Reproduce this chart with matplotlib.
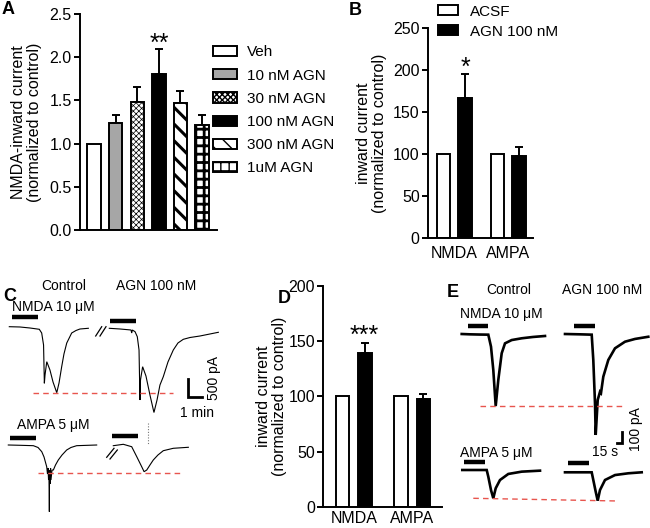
import matplotlib
matplotlib.use('Agg')
import matplotlib.pyplot as plt
import matplotlib.patches as mpatches
import numpy as np

plt.rcParams['font.family'] = ['Liberation Sans', 'DejaVu Sans']
plt.rcParams['hatch.color'] = 'black'

# ---------------- DATA ----------------
# Panel A
a_labels = ['Veh', '10 nM AGN', '30 nM AGN', '100 nM AGN', '300 nM AGN', '1uM AGN']
a_means = [1.00, 1.24, 1.48, 1.81, 1.47, 1.22]
a_errs = [0.00, 0.095, 0.17, 0.29, 0.14, 0.11]
a_yticks = [0.0, 0.5, 1.0, 1.5, 2.0, 2.5]

# Panel B
b_groups = ['NMDA', 'AMPA']
b_series = ['ACSF', 'AGN 100 nM']
b_acsf = [100, 100]
b_agn = [167, 97]
b_agn_err = [29, 11]
b_yticks = [0, 50, 100, 150, 200, 250]

# Panel D
d_groups = ['NMDA', 'AMPA']
d_ctrl = [100, 100]
d_agn = [139, 97.5]
d_agn_err = [9, 4.5]
d_yticks = [0, 50, 100, 150, 200]

# Panel C traces (time in min from trace start, current in pA relative to baseline)
c_nmda_ctrl_t = [0, 0.80, 1.55, 2.25, 2.43, 2.57, 2.63, 2.68, 2.81, 3.05, 3.28, 3.56, 3.73, 3.93, 4.10, 4.31, 4.68, 5.00, 5.30, 5.93]
c_nmda_ctrl_i = [0, -8, -36, -72, -175, -508, -1572, -1342, -972, -1203, -1536, -1833, -1564, -1111, -758, -453, -175, -106, -64, -44]
c_nmda_agn_t = [0, 0.80, 1.63, 1.68, 1.73, 1.93, 2.10, 2.23, 2.30, 2.34, 2.50, 2.75, 3.05, 3.35, 3.58, 3.80, 4.05, 4.40, 4.80, 5.15, 5.55, 6.05, 6.80, 7.55, 8.18]
c_nmda_agn_i = [0, -19, -47, -131, -47, -94, -233, -603, -1992, -1436, -1067, -1325, -1853, -2339, -1992, -1575, -1345, -936, -603, -408, -306, -256, -214, -158, -111]
c_ampa_ctrl_t = [0, 0.88, 1.88, 2.23, 2.51, 2.68, 2.88, 2.94, 2.98, 3.02, 3.05, 3.07, 3.08, 3.09, 3.13, 3.17, 3.20, 3.28, 3.38, 3.54, 3.75, 4.03, 4.38, 4.70, 5.13, 6.63]
c_ampa_ctrl_i = [0, -8, -19, -69, -186, -333, -603, -806, -639, -972, -695, -1250, -1853, -917, -1083, -639, -972, -695, -695, -556, -417, -278, -139, -69, -19, 0]
c_ampa_agn_t = [0, 0.75, 1.38, 1.76, 2.13, 2.31, 2.51, 2.75, 3.00, 3.35, 3.75, 4.50, 5.63]
c_ampa_agn_i = [0, 39, -28, -306, -583, -722, -675, -536, -397, -258, -139, -72, -44]

# Panel E traces (time in s from trace start, current in pA relative to baseline)
e_nmda_ctrl_t = [0, 24.9, 54.9, 79.8, 87.9, 94.8, 102, 109.8, 120, 129.9, 150, 180, 213.9, 249.9]
e_nmda_ctrl_i = [0, -3, -5, -6, -115, -327, -655, -418, -175, -85, -55, -39, -27, -18]
e_nmda_agn_t = [0, 45, 80.1, 84.9, 90, 92.1, 98.1, 105, 108, 114.9, 129.9, 150, 180, 210, 249.9]
e_nmda_agn_i = [0, -3, -6, -236, -630, -918, -600, -525, -536, -388, -236, -130, -70, -45, -25]
e_ampa_ctrl_t = [0, 73.2, 78, 86.1, 93, 100.2, 113.1, 138, 178.2, 233.1]
e_ampa_ctrl_i = [0, 0, -61, -182, -257, -166, -91, -36, -15, -6]
e_ampa_agn_t = [0, 80.1, 84.9, 92.1, 98.1, 105, 120, 150, 189.9, 230.1]
e_ampa_agn_i = [0, 0, -70, -176, -258, -161, -70, -25, -9, 0]

# ---------------- LAYOUT ----------------
W, H = 650, 528
fig = plt.figure(figsize=(6.5, 5.28), dpi=100)
FS = 11.5


def box(x0, y0, x1, y1):
    return [x0 / W, 1 - y1 / H, (x1 - x0) / W, (y1 - y0) / H]


def ftext(x, y, s, **kw):
    fig.text(x / W, 1 - y / H, s, **kw)


def style_axes(ax, xpad=5):
    for s in ['top', 'right']:
        ax.spines[s].set_visible(False)
    for s in ['left', 'bottom']:
        ax.spines[s].set_linewidth(1.4)
    ax.tick_params(axis='y', length=4, width=1.4, labelsize=FS, pad=2)
    ax.tick_params(axis='x', length=0, labelsize=FS, pad=xpad)


def set_hlw(p, lw):
    if hasattr(p, 'set_hatch_linewidth'):
        p.set_hatch_linewidth(lw)


EDGE_LW = 1.4

# ---------------- PANEL A ----------------
axA = fig.add_axes(box(80, 14, 217, 230))
style_axes(axA)
a_styles = [
    dict(fc='white', hatch=None, hlw=1.0),
    dict(fc='#a6a6a6', hatch=None, hlw=1.0),
    dict(fc='white', hatch='xxxxxx', hlw=0.5),
    dict(fc='black', hatch=None, hlw=1.0),
    dict(fc='white', hatch='\\\\', hlw=2.2),
    dict(fc='white', hatch='++', hlw=2.0),
]
xa = np.arange(len(a_means))
a_handles = []
for i, st in enumerate(a_styles):
    with plt.rc_context({'hatch.linewidth': st['hlw']}):
        bars = axA.bar(xa[i], a_means[i], width=0.62, color=st['fc'], edgecolor='black',
                       linewidth=EDGE_LW, hatch=st['hatch'], zorder=2)
        for p in bars:
            set_hlw(p, st['hlw'])
        hp = mpatches.Patch(facecolor=st['fc'], edgecolor='black', linewidth=EDGE_LW,
                            hatch=st['hatch'], label=a_labels[i])
        set_hlw(hp, st['hlw'])
    a_handles.append(hp)
mask = [e > 0 for e in a_errs]
axA.errorbar(xa[mask], np.array(a_means)[mask],
             yerr=[np.zeros(sum(mask)), np.array(a_errs)[mask]],
             fmt='none', ecolor='black', elinewidth=1.4, capsize=3, capthick=1.4, zorder=1)
axA.set_xlim(-0.65, 5.69)
axA.set_ylim(0, 2.5)
axA.set_yticks(a_yticks)
axA.set_yticklabels([f'{v:.1f}' for v in a_yticks])
axA.set_xticks([])
axA.set_ylabel('NMDA-inward current\n(normalized to control)', fontsize=FS, linespacing=1.05)
axA.yaxis.set_label_coords(-0.277, 0.5)
fig.legend(handles=a_handles, loc='upper left', bbox_to_anchor=(213 / W, 1 - 45.5 / H),
           frameon=False, fontsize=11, borderpad=0, borderaxespad=0,
           handlelength=1.57, handleheight=0.65, handletextpad=0.65, labelspacing=0.6)
ftext(159, 51, '**', ha='center', va='baseline', fontsize=18)

# ---------------- PANEL B ----------------
axB = fig.add_axes(box(428, 28.3, 533, 237.7))
style_axes(axB, xpad=6)
xb = np.arange(len(b_groups))
off, bw = 0.2, 0.25
bA = axB.bar(xb - off, b_acsf, width=bw, color='white', edgecolor='black', linewidth=EDGE_LW, label=b_series[0], zorder=2)
bG = axB.bar(xb + off, b_agn, width=bw, color='black', edgecolor='black', linewidth=EDGE_LW, label=b_series[1], zorder=2)
axB.errorbar(xb + off, b_agn, yerr=[np.zeros(len(b_agn)), b_agn_err], fmt='none', ecolor='black',
             elinewidth=1.4, capsize=3, capthick=1.4, zorder=1)
axB.set_xlim(-0.49, 1.46)
axB.set_ylim(0, 250)
axB.set_yticks(b_yticks)
axB.set_xticks(xb)
axB.set_xticklabels(b_groups)
axB.set_ylabel('inward current\n(normalized to control)', fontsize=FS, linespacing=1.05)
axB.yaxis.set_label_coords(-0.39, 0.5)
fig.legend(handles=[bA, bG], loc='upper left', bbox_to_anchor=(438 / W, 1 - 4.6 / H),
           frameon=False, fontsize=11, borderpad=0, borderaxespad=0,
           handlelength=1.3, handleheight=0.65, handletextpad=0.78, labelspacing=0.4)
ftext(465, 75, '*', ha='center', va='baseline', fontsize=18)

# ---------------- PANEL D ----------------
axD = fig.add_axes(box(323.3, 286, 442, 506.7))
style_axes(axD, xpad=3)
xd = np.arange(len(d_groups))
offd, bwd = 0.19, 0.23
axD.bar(xd - offd, d_ctrl, width=bwd, color='white', edgecolor='black', linewidth=EDGE_LW, zorder=2)
axD.bar(xd + offd, d_agn, width=bwd, color='black', edgecolor='black', linewidth=EDGE_LW, zorder=2)
axD.errorbar(xd + offd, d_agn, yerr=[np.zeros(len(d_agn)), d_agn_err], fmt='none', ecolor='black',
             elinewidth=1.4, capsize=3, capthick=1.4, zorder=1)
axD.set_xlim(-0.52, 1.51)
axD.set_ylim(0, 200)
axD.set_yticks(d_yticks)
axD.set_xticks(xd)
axD.set_xticklabels(d_groups)
axD.set_ylabel('inward current\n(normalized to control)', fontsize=FS, linespacing=1.05)
axD.yaxis.set_label_coords(-0.306, 0.5)
ftext(364, 343, '***', ha='center', va='baseline', fontsize=18)

# ---------------- PANEL C (traces) ----------------
PXM = 13.33      # px per min
PXP = 0.036      # px per pA
C0 = (0, 280, 230, 528)
axC = fig.add_axes(box(*C0))
axC.set_xlim(0, (C0[2] - C0[0]) / PXM)
axC.set_ylim(-(C0[3] - C0[1]) / PXP, 0)
axC.axis('off')


def cx(x):
    return (x - C0[0]) / PXM


def cy(y):
    return -(y - C0[1]) / PXP


RED = '#e8554e'
c_traces = [
    (c_nmda_ctrl_t, c_nmda_ctrl_i, 9.3, 326.7),
    (c_nmda_agn_t, c_nmda_agn_i, 109.3, 328.3),
    (c_ampa_ctrl_t, c_ampa_ctrl_i, 8.3, 445.0),
    (c_ampa_agn_t, c_ampa_agn_i, 113.3, 445.7),
]
for t, i, x0, y0 in c_traces:
    axC.plot(np.array(t) + cx(x0), np.array(i) + cy(y0), color='black', lw=0.8, solid_joinstyle='miter')
axC.plot([cx(33.3), cx(173.3)], [cy(326.7) + min(c_nmda_ctrl_i)] * 2, color=RED, lw=1.0, dashes=(4, 3))
axC.plot([cx(38.3), cx(180)], [cy(473.3)] * 2, color=RED, lw=1.0, dashes=(4, 3))
axC.plot([cx(148.3), cx(148.3)], [cy(423.3), cy(445)], color='#777777', lw=0.8, dashes=(1, 1.5))
for xa0, xa1, yb in [(11.7, 38.3, 316.7), (110, 136, 320.7), (10, 36, 438.3), (111.7, 137.7, 435.7)]:
    axC.plot([cx(xa0), cx(xa1)], [cy(yb)] * 2, color='black', lw=3.2, solid_capstyle='butt')
for (x0, y0, x1, y1) in [(95.7, 336, 101.7, 326.7), (100, 336, 106, 326.7),
                         (106.7, 457.3, 114, 448.3), (110, 459, 117.3, 450)]:
    axC.plot([cx(x0), cx(x1)], [cy(y0), cy(y1)], color='black', lw=0.9)
sx, sy = cx(188.3), cy(396.7)
axC.plot([sx, sx, sx + 1], [sy + 500, sy, sy], color='black', lw=2.0, solid_joinstyle='miter')
ftext(214, 378, '500 pA', rotation=90, ha='center', va='center', fontsize=10)
ftext(197, 413, '1 min', ha='center', va='center', fontsize=10)
ftext(64, 286, 'Control', ha='center', va='center', fontsize=10)
ftext(156, 286, 'AGN 100 nM', ha='center', va='center', fontsize=10)
ftext(12, 307.5, 'NMDA 10 μM', ha='left', va='center', fontsize=10)
ftext(17, 425, 'AMPA 5 μM', ha='left', va='center', fontsize=10)

# ---------------- PANEL E (traces) ----------------
PXS = 1 / 3.0    # px per s
PXPE = 0.11      # px per pA
E0 = (450, 280, 650, 528)
axE = fig.add_axes(box(*E0))
axE.set_xlim(0, (E0[2] - E0[0]) / PXS)
axE.set_ylim(-(E0[3] - E0[1]) / PXPE, 0)
axE.axis('off')


def ex(x):
    return (x - E0[0]) / PXS


def ey(y):
    return -(y - E0[1]) / PXPE


e_traces = [
    (e_nmda_ctrl_t, e_nmda_ctrl_i, 461.7, 334.0),
    (e_nmda_agn_t, e_nmda_agn_i, 565.0, 334.0),
    (e_ampa_ctrl_t, e_ampa_ctrl_i, 462.3, 470.0),
    (e_ampa_agn_t, e_ampa_agn_i, 565.0, 472.3),
]
for t, i, x0, y0 in e_traces:
    axE.plot(np.array(t) + ex(x0), np.array(i) + ey(y0), color='black', lw=1.9, solid_joinstyle='miter')
axE.plot([ex(480), ex(625)], [ey(334) + min(e_nmda_ctrl_i)] * 2, color=RED, lw=1.0, dashes=(4, 3))
axE.plot([ex(473.3), ex(618.3)], [ey(498.3), ey(501)], color=RED, lw=1.0, dashes=(4, 3))
for xa0, xa1, yb in [(468.3, 488.3, 325.7), (574.3, 595, 325.7), (464.3, 485, 462.3), (568.3, 589, 463.3)]:
    axE.plot([ex(xa0), ex(xa1)], [ey(yb)] * 2, color='black', lw=3.2, solid_capstyle='butt')
sx, sy = ex(621.7), ey(442.7)
axE.plot([sx - 15, sx, sx], [sy, sy, sy + 100], color='black', lw=2.0, solid_joinstyle='miter')
ftext(636, 429, '100 pA', rotation=90, ha='center', va='center', fontsize=10)
ftext(605, 452, '15 s', ha='center', va='center', fontsize=10)
ftext(509, 290, 'Control', ha='center', va='center', fontsize=10)
ftext(602, 290, 'AGN 100 nM', ha='center', va='center', fontsize=10)
ftext(460, 314, 'NMDA 10 μM', ha='left', va='center', fontsize=10)
ftext(460, 453, 'AMPA 5 μM', ha='left', va='center', fontsize=10)

# ---------------- PANEL LETTERS ----------------
for lx, ly, s in [(2, 1, 'A'), (349, 2, 'B'), (3, 288, 'C'), (278, 290, 'D'), (447, 284, 'E')]:
    ftext(lx, ly, s, ha='left', va='top', fontsize=13, fontweight='bold')

fig.savefig('out.png', dpi=100)
